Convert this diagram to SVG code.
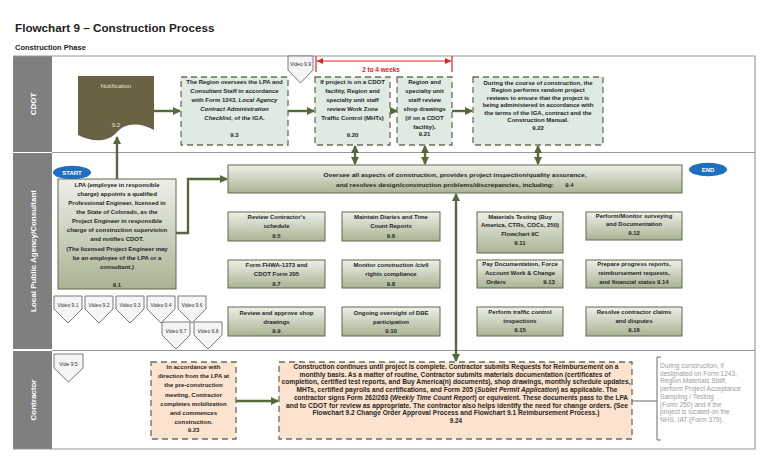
<svg xmlns="http://www.w3.org/2000/svg" width="768" height="466" viewBox="0 0 768 466">
<style>
text{font-family:"Liberation Sans",Arial,sans-serif}
.t{font-size:6px;font-weight:bold;fill:#262626;text-anchor:middle}
.t24{font-size:6.3px;font-weight:bold;fill:#262626;text-anchor:middle}
.vid{font-size:5px;fill:#333;text-anchor:middle}
.note{font-size:6.6px;fill:#9c9c9c}
.lane{font-size:8px;font-weight:bold;fill:#fff;text-anchor:middle}
.dash{fill:#dfeae2;stroke:#6e6e58;stroke-width:1.3;stroke-dasharray:6 4}
.peach{fill:#fbe3cf;stroke:#6e6e58;stroke-width:1.3;stroke-dasharray:6 4}
.grad{fill:url(#g);stroke:#5f6b4a;stroke-width:1}
.pent{fill:#f5f5f5;stroke:#7a7a7a;stroke-width:1}
.con{fill:none;stroke:#56693a;stroke-width:2.4}
.frame{fill:none;stroke:#9a9a9a;stroke-width:1.2}
.it{font-style:italic}
</style>
<defs>
<linearGradient id="g" x1="0" y1="0" x2="0" y2="1">
<stop offset="0" stop-color="#eef0e8"/>
<stop offset="1" stop-color="#a9b394"/>
</linearGradient>
<marker id="ah" markerWidth="8" markerHeight="8" refX="7" refY="4" orient="auto-start-reverse" markerUnits="userSpaceOnUse">
<path d="M0,0 L8,4 L0,8 Z" fill="#56693a"/>
</marker>
<marker id="rh" markerWidth="6" markerHeight="6" refX="6" refY="3" orient="auto-start-reverse" markerUnits="userSpaceOnUse">
<path d="M0,0 L6,3 L0,6 Z" fill="#e02020"/>
</marker>
</defs>
<rect width="768" height="466" fill="#fff"/>
<text x="15" y="32" font-size="11.7" font-weight="bold" fill="#222">Flowchart 9 – Construction Process</text>
<text x="15" y="50" font-size="7.5" font-weight="bold" fill="#222">Construction Phase</text>

<g id="lanes">
<rect x="13" y="56" width="39" height="96" fill="#7f7f7f"/>
<rect x="13" y="153" width="39" height="196" fill="#7f7f7f"/>
<rect x="13" y="351" width="39" height="98" fill="#7f7f7f"/>
<path class="frame" d="M13,56 H755 V449 H13 M52,152.5 H755 M52,350.5 H755"/>
<text class="lane" transform="translate(36,104) rotate(-90)">CDOT</text>
<text class="lane" transform="translate(36,251) rotate(-90)">Local Public Agency/Consultant</text>
<text class="lane" transform="translate(36,400) rotate(-90)">Contractor</text>
</g>

<g id="connectors">
<line class="con" x1="154" y1="111" x2="180" y2="111" marker-end="url(#ah)"/>
<line class="con" x1="288" y1="111" x2="314" y2="111" marker-end="url(#ah)"/>
<line class="con" x1="390" y1="111" x2="397" y2="111" marker-end="url(#ah)"/>
<line class="con" x1="452" y1="111" x2="472" y2="111" marker-end="url(#ah)"/>
<line class="con" x1="355" y1="146" x2="355" y2="164" marker-start="url(#ah)" marker-end="url(#ah)"/>
<line class="con" x1="425" y1="146" x2="425" y2="164" marker-start="url(#ah)" marker-end="url(#ah)"/>
<line class="con" x1="538" y1="146" x2="538" y2="164" marker-start="url(#ah)" marker-end="url(#ah)"/>
<line class="con" x1="117" y1="179" x2="117" y2="137" marker-end="url(#ah)"/>
<polyline class="con" points="176,233 188,233 188,179 227,179" marker-end="url(#ah)"/>
<line class="con" x1="456" y1="194" x2="456" y2="361" marker-start="url(#ah)" marker-end="url(#ah)"/>
<line class="con" x1="236" y1="401" x2="278" y2="401" marker-end="url(#ah)"/>
<path d="M632,401 H657 M661,357 H657 V440 H661" fill="none" stroke="#6a6a6a" stroke-width="1"/>
</g>

<g id="dimension">
<path d="M316,56 V72 M452,56 V72" stroke="#e02020" stroke-width="1.2"/>
<line x1="317" y1="61" x2="451" y2="61" stroke="#e02020" stroke-width="1.2" marker-start="url(#rh)" marker-end="url(#rh)"/>
<text x="381" y="72" font-size="6.4" font-weight="bold" fill="#e02020" text-anchor="middle">2 to 4 weeks</text>
</g>

<g id="v99"><path class="pent" d="M288,56 H313 V70 L300.5,83 L288,70 Z"/><text class="vid" x="300.5" y="66">Video 9.9</text></g>

<g id="n92">
<path d="M78,76 H154 V130 C138,121 124,124 117,132 C108,143 91,142 78,135 Z" fill="#6b6246"/>
<text x="116" y="88" font-size="6.2" fill="#e6e1d2" text-anchor="middle">Notification</text>
<text x="116" y="127" font-size="6.2" fill="#e6e1d2" text-anchor="middle">9.2</text>
</g>

<g id="n93">
<rect class="dash" x="181" y="77" width="107" height="68"/>
<text class="t" x="234.5" y="84">The Region oversees the LPA and</text>
<text class="t" x="234.5" y="93">Consultant Staff in accordance</text>
<text class="t" x="234.5" y="102">with Form 1243, <tspan class="it">Local Agency</tspan></text>
<text class="t it" x="234.5" y="111">Contract Administration</text>
<text class="t" x="234.5" y="120"><tspan class="it">Checklist</tspan>, of the IGA.</text>
<text class="t" x="234.5" y="137">9.3</text>
</g>

<g id="n920">
<rect class="dash" x="315" y="77" width="75" height="68"/>
<text class="t" x="352.5" y="84">If project is on a CDOT</text>
<text class="t" x="352.5" y="93">facility, Region and</text>
<text class="t" x="352.5" y="102">specialty unit staff</text>
<text class="t" x="352.5" y="111">review Work Zone</text>
<text class="t" x="352.5" y="120">Traffic Control (MHTs)</text>
<text class="t" x="352.5" y="137">9.20</text>
</g>

<g id="n921">
<rect class="dash" x="397" y="77" width="55" height="68"/>
<text class="t" x="424.5" y="84">Region and</text>
<text class="t" x="424.5" y="93">specialty unit</text>
<text class="t" x="424.5" y="102">staff  review</text>
<text class="t" x="424.5" y="111">shop drawings</text>
<text class="t" x="424.5" y="120">(if on a CDOT</text>
<text class="t" x="424.5" y="128.5">facility).</text>
<text class="t" x="424.5" y="136">9.21</text>
</g>

<g id="n922">
<rect class="dash" x="473" y="77" width="130" height="68"/>
<text class="t" x="538" y="84.5">During the course of construction, the</text>
<text class="t" x="538" y="92">Region performs random project</text>
<text class="t" x="538" y="99.5">reviews to ensure that the project is</text>
<text class="t" x="538" y="107">being administered in accordance with</text>
<text class="t" x="538" y="114.5">the terms of the IGA, contract and the</text>
<text class="t" x="538" y="122">Construction Manual.</text>
<text class="t" x="538" y="129.5">9.22</text>
</g>

<g id="start"><ellipse cx="72" cy="172.5" rx="19" ry="6.8" fill="#1f6fc0"/><text x="72" y="175" font-size="6" font-weight="bold" fill="#fff" text-anchor="middle">START</text></g>
<g id="end"><ellipse cx="708" cy="169.5" rx="19" ry="6.8" fill="#1f6fc0"/><text x="708" y="172" font-size="6" font-weight="bold" fill="#fff" text-anchor="middle">END</text></g>

<g id="n91">
<rect class="grad" x="58" y="179" width="118" height="110" stroke-width="1.3"/>
<text class="t" x="117" y="186.5">LPA (employee in responsible</text>
<text class="t" x="117" y="195.5">charge) appoints a qualified</text>
<text class="t" x="117" y="204.5">Professional Engineer, licensed in</text>
<text class="t" x="117" y="213.8">the State of Colorado, as the</text>
<text class="t" x="117" y="222.8">Project Engineer in responsible</text>
<text class="t" x="117" y="232">charge of construction supervision</text>
<text class="t" x="117" y="241">and notifies CDOT.</text>
<text class="t" x="117" y="250.8">(The licensed Project Engineer may</text>
<text class="t" x="117" y="259.8">be an employee of the LPA or a</text>
<text class="t" x="117" y="268.8">consultant.)</text>
<text class="t" x="117" y="287">9.1</text>
</g>

<g id="n94">
<rect class="grad" x="228" y="165" width="454" height="28"/>
<text class="t" x="455" y="177" textLength="263" lengthAdjust="spacingAndGlyphs">Oversee all aspects of construction, provides project  inspection/quality assurance,</text>
<text class="t" x="445" y="186.5" textLength="218" lengthAdjust="spacingAndGlyphs">and resolves design/construction problems/discrepancies, including:</text>
<text class="t" x="569.5" y="186.5">9.4</text>
</g>

<g id="n95"><rect class="grad" x="228" y="212" width="97" height="29"/><text class="t" x="276.5" y="219">Review Contractor's</text><text class="t" x="276.5" y="228">schedule</text><text class="t" x="276.5" y="237.5">9.5</text></g>
<g id="n96"><rect class="grad" x="342" y="212" width="98" height="29"/><text class="t" x="391" y="219">Maintain Diaries and Time</text><text class="t" x="391" y="228">Count Reports</text><text class="t" x="391" y="237.5">9.6</text></g>
<g id="n97"><rect class="grad" x="228" y="260" width="97" height="28"/><text class="t" x="276.5" y="267">Form FHWA-1273 and</text><text class="t" x="276.5" y="276">CDOT Form 205</text><text class="t" x="276.5" y="285.5">9.7</text></g>
<g id="n98"><rect class="grad" x="342" y="260" width="98" height="28"/><text class="t" x="391" y="267">Monitor construction /civil</text><text class="t" x="391" y="276">rights compliance</text><text class="t" x="391" y="285.5">9.8</text></g>
<g id="n99"><rect class="grad" x="228" y="307" width="97" height="29"/><text class="t" x="276.5" y="314.7">Review and approve shop</text><text class="t" x="276.5" y="323.7">drawings</text><text class="t" x="276.5" y="333">9.9</text></g>
<g id="n910"><rect class="grad" x="342" y="307" width="98" height="29"/><text class="t" x="391" y="314.7">Ongoing oversight of DBE</text><text class="t" x="391" y="323.7">participation</text><text class="t" x="391" y="333">9.10</text></g>
<g id="n911"><rect class="grad" x="477" y="212" width="86" height="41"/><text class="t" x="520" y="218.7">Materials Testing (Buy</text><text class="t" x="520" y="227.3">America, CTRs, COCs, 250)</text><text class="t" x="520" y="236">Flowchart 9C</text><text class="t" x="520" y="244.7">9.11</text></g>
<g id="n912"><rect class="grad" x="586" y="212" width="96" height="28"/><text class="t" x="634" y="217.7">Perform/Monitor surveying</text><text class="t" x="634" y="226.3">and Documentation</text><text class="t" x="634" y="235">9.12</text></g>
<g id="n913"><rect class="grad" x="477" y="260" width="86" height="28"/><text class="t" x="520" y="266">Pay Documentation, Force</text><text class="t" x="520" y="275">Account Work &amp; Change</text><text class="t" x="496" y="284">Orders</text><text class="t" x="549" y="284">9.13</text></g>
<g id="n914"><rect class="grad" x="586" y="260" width="96" height="28"/><text class="t" x="634" y="266">Prepare progress reports,</text><text class="t" x="634" y="275">reimbursement requests,</text><text class="t" x="634" y="284">and financial status 9.14</text></g>
<g id="n915"><rect class="grad" x="477" y="307" width="86" height="29"/><text class="t" x="520" y="314">Perform traffic control</text><text class="t" x="520" y="323">inspections</text><text class="t" x="520" y="332">9.15</text></g>
<g id="n916"><rect class="grad" x="586" y="307" width="96" height="29"/><text class="t" x="634" y="314">Resolve contractor claims</text><text class="t" x="634" y="323">and disputes</text><text class="t" x="634" y="332">9.16</text></g>

<g id="v91"><path class="pent" d="M54,296 H82 V309 L68,323 L54,309 Z"/><text class="vid" x="68" y="306.5">Video 9.1</text></g>
<g id="v92"><path class="pent" d="M85,296 H113 V309 L99,323 L85,309 Z"/><text class="vid" x="99" y="306.5">Video 9.2</text></g>
<g id="v93"><path class="pent" d="M116,296 H144 V309 L130,323 L116,309 Z"/><text class="vid" x="130" y="306.5">Video 9.3</text></g>
<g id="v94"><path class="pent" d="M147,296 H175 V309 L161,323 L147,309 Z"/><text class="vid" x="161" y="306.5">Video 9.4</text></g>
<g id="v96"><path class="pent" d="M178,296 H206 V309 L192,323 L178,309 Z"/><text class="vid" x="192" y="306.5">Video 9.6</text></g>
<g id="v97"><path class="pent" d="M162,322 H190 V335 L176,349 L162,335 Z"/><text class="vid" x="176" y="332.5">Video 9.7</text></g>
<g id="v98"><path class="pent" d="M194,322 H222 V335 L208,349 L194,335 Z"/><text class="vid" x="208" y="332.5">Video 9.8</text></g>
<g id="v95"><path class="pent" d="M54,354 H83 V368 L68.5,382 L54,368 Z"/><text class="vid" x="68.5" y="366">Vide 9.5</text></g>

<g id="n923">
<rect class="peach" x="151" y="362" width="85" height="77"/>
<text class="t" x="193.5" y="369">In accordance with</text>
<text class="t" x="193.5" y="378">direction from the LPA at</text>
<text class="t" x="193.5" y="387.3">the pre-construction</text>
<text class="t" x="193.5" y="396.5">meeting, Contractor</text>
<text class="t" x="193.5" y="405.5">completes mobilization</text>
<text class="t" x="193.5" y="415">and  commences</text>
<text class="t" x="193.5" y="424">construction.</text>
<text class="t" x="193.5" y="432.3">9.23</text>
</g>

<g id="n924">
<rect class="peach" x="279" y="362" width="353" height="77"/>
<text class="t24" x="456" y="369" textLength="325" lengthAdjust="spacingAndGlyphs">Construction continues until project is complete. Contractor submits Requests for Reimbursement on a</text>
<text class="t24" x="455" y="376.7" textLength="311" lengthAdjust="spacingAndGlyphs">monthly basis.   As a matter of routine, Contractor submits materials documentation (certificates of</text>
<text class="t24" x="456" y="384.4" textLength="349" lengthAdjust="spacingAndGlyphs">completion, certified test reports, and Buy America(n) documents), shop drawings, monthly schedule updates,</text>
<text class="t24" x="457" y="392.1" textLength="321" lengthAdjust="spacingAndGlyphs">MHTs, certified payrolls and certifications, and Form 205 (<tspan class="it">Sublet Permit Application</tspan>) as applicable.  The</text>
<text class="t24" x="461" y="399.8" textLength="334" lengthAdjust="spacingAndGlyphs">contractor signs Form 262/263 (<tspan class="it">Weekly Time Count Report</tspan>) or equivalent.  These documents pass to the LPA</text>
<text class="t24" x="457" y="407.5" textLength="342" lengthAdjust="spacingAndGlyphs">and to CDOT for review as appropriate.   The contractor also helps identify the need for change orders.  (See</text>
<text class="t24" x="456" y="415.2" textLength="287" lengthAdjust="spacingAndGlyphs">Flowchart 9.2 Change Order Approval Process and Flowchart 9.1 Reimbursement Process.)</text>
<text class="t24" x="456" y="422.5">9.24</text>
</g>

<g id="note">
<text class="note" x="660" y="368">During construction, if</text>
<text class="note" x="660" y="375.7">designated on Form 1243,</text>
<text class="note" x="660" y="383.4">Region Materials Staff,</text>
<text class="note" x="660" y="391.1">perform Project Acceptance</text>
<text class="note" x="660" y="398.8">Sampling / Testing</text>
<text class="note" x="660" y="406.5">(Form 250) and if the</text>
<text class="note" x="660" y="414.2">project is located on the</text>
<text class="note" x="660" y="421.9">NHS, IAT (Form 379).</text>
</g>
</svg>
